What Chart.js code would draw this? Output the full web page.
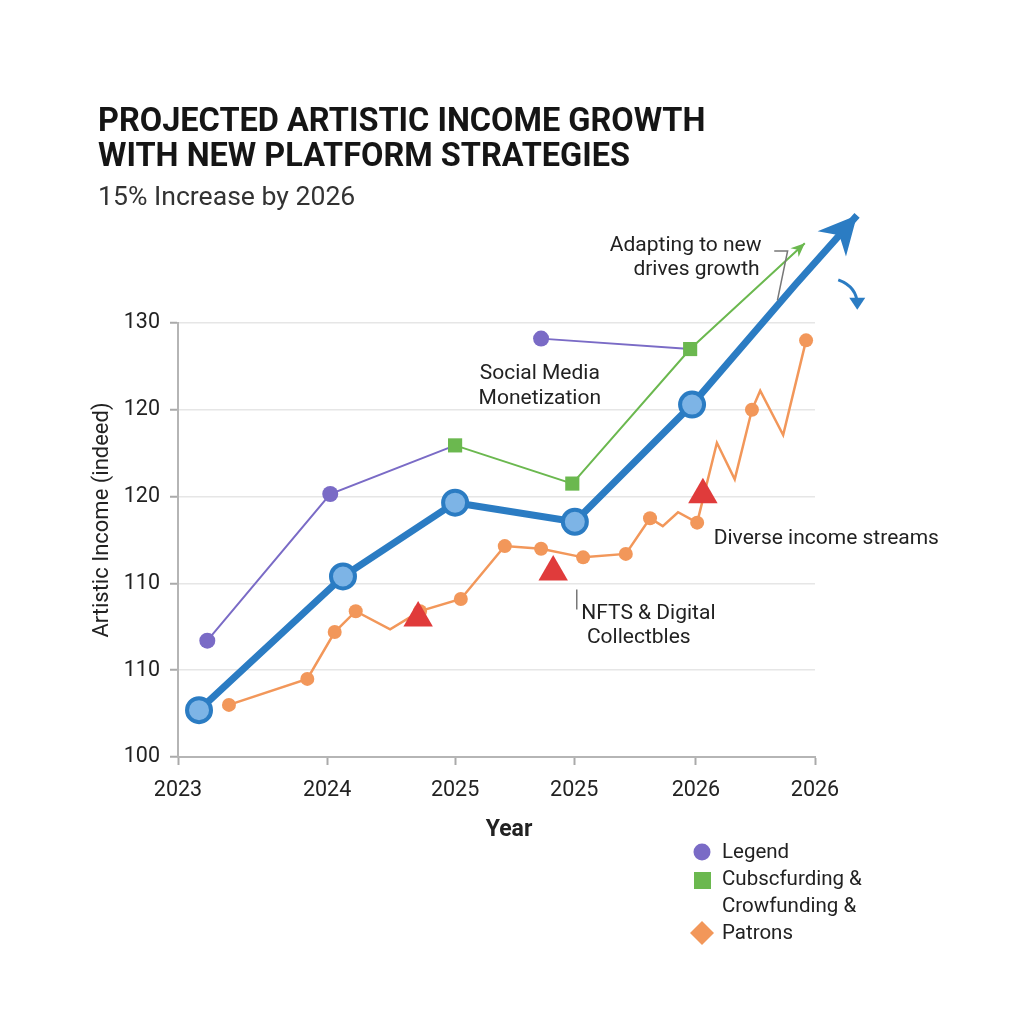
<!DOCTYPE html>
<html>
<head>
<meta charset="utf-8">
<script src="https://cdn.jsdelivr.net/npm/chart.js@4.4.0/dist/chart.umd.min.js"></script>
<style>
  html, body { margin: 0; background: #fff; }
  #wrap { width: 1024px; height: 1024px; }
</style>
</head>
<body>
<div id="wrap"><canvas id="grafic" width="1024" height="1024"></canvas></div>
<script>
// eixos (posicions irregulars com a l'original)
const xTickPos = [0, 23.4, 43.5, 62.2, 81.3, 100];
const xTickLabels = ['2023', '2024', '2025', '2025', '2026', '2026'];
const yTickLabels = ['100', '110', '110', '120', '120', '130'];

// línia principal (blava), l'últim punt és la punta de la fletxa
const mainX = [3.3, 25.9, 43.5, 62.3, 80.7, 96.9, 106.6];
const mainY = [105.4, 120.8, 129.3, 127.1, 140.6, 154.4, 162.4];

// línia lila (amb un tall)
const purpleX = [4.6, 23.9, 43.5, null, 57.0, 80.4];
const purpleY = [113.4, 130.3, 135.9, null, 148.2, 147.0];
const purpleMarker = [1, 1, 0, 0, 1, 0];

// línia verda (quadrats), l'últim punt és la punta de la fletxa
const greenX = [43.5, 61.9, 80.4, 98.4];
const greenY = [135.9, 131.5, 147.0, 159.2];

// línia taronja
const orangeX = [8.0, 20.3, 24.6, 27.9, 33.3, 38.0, 44.4, 51.3, 57.0, 63.6, 70.3, 74.1, 76.1, 78.5, 81.5, 84.6, 87.4, 90.1, 91.4, 95.0, 98.6];
const orangeY = [106.0, 109.0, 114.4, 116.8, 114.7, 116.8, 118.2, 124.3, 124.0, 123.0, 123.4, 127.5, 126.6, 128.2, 127.0, 136.2, 132.0, 140.0, 142.2, 137.1, 148.0];
const orangeMarker = [1, 1, 1, 1, 0, 1, 1, 1, 1, 1, 1, 1, 0, 0, 1, 0, 0, 1, 0, 0, 1];

// triangles vermells
const triX = [37.7, 58.9, 82.4];
const triY = [116.0, 121.3, 130.2];

const punts = (xs, ys) => xs.map((x, i) => (x === null ? { x: (xs[i - 1] + xs[i + 1]) / 2, y: null } : { x: x, y: ys[i] }));

const C_BLUE = '#2b7cc3', C_PURPLE = '#7a6bc6', C_GREEN = '#6bb84f', C_ORANGE = '#f2975a', C_RED = '#e03b3b';
const FONT = 'Roboto, "Noto Sans", sans-serif';

function fletxa(ctx, from, to, len, ample, color) {
    const ang = Math.atan2(to.y - from.y, to.x - from.x);
    ctx.save();
    ctx.fillStyle = color;
    ctx.beginPath();
    ctx.moveTo(to.x, to.y);
    ctx.lineTo(to.x - len * Math.cos(ang) + ample * Math.sin(ang), to.y - len * Math.sin(ang) - ample * Math.cos(ang));
    ctx.lineTo(to.x - len * 0.7 * Math.cos(ang), to.y - len * 0.7 * Math.sin(ang));
    ctx.lineTo(to.x - len * Math.cos(ang) - ample * Math.sin(ang), to.y - len * Math.sin(ang) + ample * Math.cos(ang));
    ctx.closePath();
    ctx.fill();
    ctx.restore();
}

// títols, anotacions i llegenda
const decoracio = {
    id: 'decoracio',
    afterDatasetsDraw(chart) {
        const ctx = chart.ctx;
        const sx = chart.scales.x, sy = chart.scales.y;
        const px = v => sx.getPixelForValue(v), py = v => sy.getPixelForValue(v);

        // puntes de fletxa
        [0, 2].forEach(i => {
            const d = chart.getDatasetMeta(i).data;
            const a = d[d.length - 2], b = d[d.length - 1];
            if (i === 0) fletxa(ctx, a, b, 38, 19, C_BLUE);
            else fletxa(ctx, a, b, 14, 6, C_GREEN);
        });

        // fletxa corba petita
        const last = chart.getDatasetMeta(0).data[5];
        ctx.save();
        ctx.strokeStyle = C_BLUE; ctx.lineWidth = 3;
        ctx.beginPath();
        ctx.moveTo(last.x + 43, last.y - 5);
        ctx.quadraticCurveTo(last.x + 62, last.y + 2, last.x + 62, last.y + 20);
        ctx.stroke();
        ctx.fillStyle = C_BLUE;
        ctx.beginPath();
        ctx.moveTo(last.x + 62, last.y + 25);
        ctx.lineTo(last.x + 54, last.y + 13);
        ctx.lineTo(last.x + 70, last.y + 13);
        ctx.closePath();
        ctx.fill();
        ctx.restore();

        ctx.save();
        ctx.fillStyle = '#222';
        ctx.textBaseline = 'middle';
        ctx.font = '21px ' + FONT;

        ctx.textAlign = 'center';
        ctx.fillText('Social Media', px(56.8), py(144.2));
        ctx.fillText('Monetization', px(56.8), py(141.3));

        ctx.textAlign = 'right';
        ctx.fillText('Adapting to new', px(91.6), py(158.9));
        ctx.fillText('drives growth', px(91.3), py(156.1));

        ctx.textAlign = 'left';
        ctx.fillText('Diverse income streams', px(84.1), py(125.2));
        ctx.fillText('NFTS & Digital', px(63.3), py(116.5));
        ctx.fillText('Collectbles', px(64.2), py(113.7));

        // línies guia
        ctx.strokeStyle = '#777'; ctx.lineWidth = 1.5;
        ctx.beginPath();
        ctx.moveTo(px(93.6), py(158.3)); ctx.lineTo(px(95.7), py(158.3)); ctx.lineTo(px(94.1), py(152.6));
        ctx.moveTo(px(62.6), py(119.3)); ctx.lineTo(px(62.6), py(117.0));
        ctx.stroke();
        ctx.restore();
    },
    afterDraw(chart) {
        const ctx = chart.ctx;
        ctx.save();
        ctx.fillStyle = '#151515';
        ctx.textBaseline = 'middle';
        ctx.textAlign = 'left';
        ctx.font = 'bold 32.5px ' + FONT;
        ctx.fillText('PROJECTED ARTISTIC INCOME GROWTH', 98, 123);
        ctx.fillText('WITH NEW PLATFORM STRATEGIES', 98, 158);
        ctx.fillStyle = '#333';
        ctx.font = '26.6px ' + FONT;
        ctx.fillText('15% Increase by 2026', 98, 198);

        // títols d'eixos
        ctx.fillStyle = '#222';
        ctx.font = 'bold 23px ' + FONT;
        ctx.textAlign = 'center';
        ctx.fillText('Year', 509, 830);
        ctx.save();
        ctx.translate(102, 520);
        ctx.rotate(-Math.PI / 2);
        ctx.font = '22px ' + FONT;
        ctx.fillText('Artistic Income (indeed)', 0, 0);
        ctx.restore();

        // llegenda
        ctx.textAlign = 'left';
        ctx.font = '20.5px ' + FONT;
        ctx.fillStyle = C_PURPLE;
        ctx.beginPath(); ctx.arc(702, 852, 8.5, 0, Math.PI * 2); ctx.fill();
        ctx.fillStyle = C_GREEN;
        ctx.fillRect(694, 872, 17, 17);
        ctx.fillStyle = C_ORANGE;
        ctx.beginPath();
        ctx.moveTo(702, 921); ctx.lineTo(714, 933); ctx.lineTo(702, 945); ctx.lineTo(690, 933);
        ctx.closePath(); ctx.fill();
        ctx.fillStyle = '#222';
        ctx.fillText('Legend', 722, 853);
        ctx.fillText('Cubscfurding &', 722, 880);
        ctx.fillText('Crowfunding &', 722, 907);
        ctx.fillText('Patrons', 722, 934);
        ctx.restore();
    }
};

new Chart(document.getElementById('grafic'), {
    type: 'line',
    data: {
        datasets: [
            {
                label: 'Main', data: punts(mainX, mainY),
                borderColor: C_BLUE, borderWidth: 7,
                pointRadius: mainX.map((_, i) => (i === mainX.length - 1 ? 0 : 12)),
                pointBackgroundColor: '#7db4e6', pointBorderColor: C_BLUE, pointBorderWidth: 4,
                tension: 0, clip: false, order: 1
            },
            {
                label: 'Triangles', data: punts(triX, triY), showLine: false,
                pointStyle: 'triangle', pointRadius: 17, pointBackgroundColor: C_RED, pointBorderColor: C_RED,
                pointBorderWidth: 0, clip: false, order: 2
            },
            {
                label: 'Green', data: punts(greenX, greenY),
                borderColor: C_GREEN, borderWidth: 2,
                pointStyle: 'rect', pointRadius: greenX.map((_, i) => (i === greenX.length - 1 ? 0 : 10)),
                pointBackgroundColor: C_GREEN, pointBorderWidth: 0,
                tension: 0, clip: false, order: 3
            },
            {
                label: 'Legend', data: punts(purpleX, purpleY), spanGaps: false,
                borderColor: C_PURPLE, borderWidth: 2,
                pointRadius: purpleMarker.map(m => m * 8),
                pointBackgroundColor: C_PURPLE, pointBorderWidth: 0,
                tension: 0, clip: false, order: 4
            },
            {
                label: 'Patrons', data: punts(orangeX, orangeY),
                borderColor: C_ORANGE, borderWidth: 2.5,
                pointRadius: orangeMarker.map(m => m * 7),
                pointBackgroundColor: C_ORANGE, pointBorderWidth: 0,
                tension: 0, clip: false, order: 5
            }
        ]
    },
    options: {
        responsive: false,
        animation: false,
        layout: { padding: { left: 0, right: 209, top: 323, bottom: 0 } },
        plugins: { legend: { display: false }, tooltip: { enabled: false } },
        scales: {
            x: {
                type: 'linear', min: 0, max: 100,
                afterBuildTicks: s => { s.ticks = xTickPos.map(v => ({ value: v })); },
                afterFit: s => { s.height = 267; },
                grid: { drawOnChartArea: false, tickLength: 8, tickColor: '#aaa', tickWidth: 2 },
                border: { color: '#b5b5b5', width: 2 },
                ticks: {
                    color: '#222', font: { family: FONT, size: 21.5 }, padding: 13, maxRotation: 0,
                    callback: (v, i) => xTickLabels[i]
                }
            },
            y: {
                type: 'linear', min: 100, max: 150,
                afterBuildTicks: s => { s.ticks = yTickLabels.map((_, i) => ({ value: 100 + i * 10 })); },
                afterFit: s => { s.width = 178; },
                grid: { color: '#e6e6e6', lineWidth: 1.5, tickLength: 8, tickColor: '#aaa', tickWidth: 2 },
                border: { color: '#b5b5b5', width: 2 },
                ticks: {
                    color: '#222', font: { family: FONT, size: 21.5 }, padding: 10,
                    callback: (v, i) => yTickLabels[i]
                }
            }
        }
    },
    plugins: [decoracio]
});
</script>
</body>
</html>
